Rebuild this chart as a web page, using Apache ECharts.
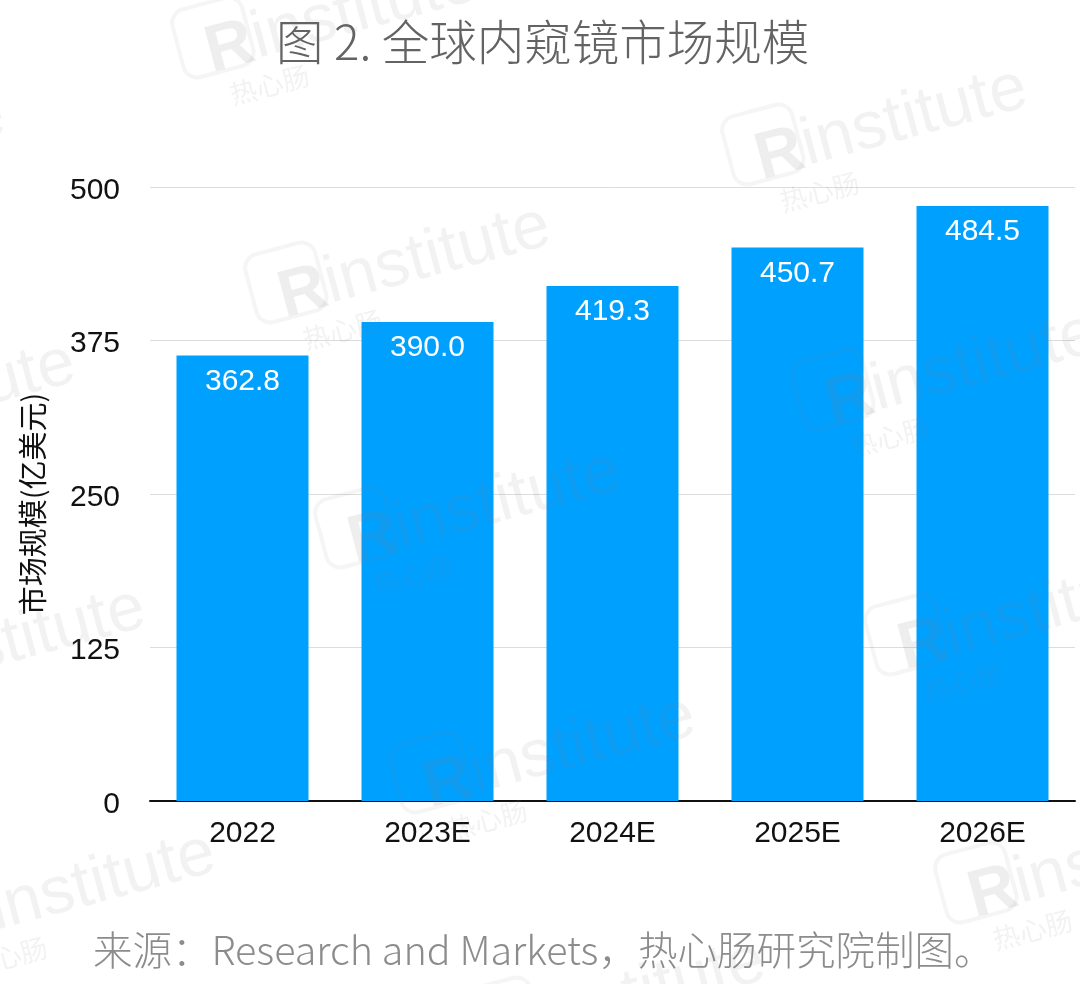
<!DOCTYPE html>
<html>
<head>
<meta charset="utf-8">
<script src="https://cdn.jsdelivr.net/npm/echarts@6/dist/echarts.min.js"></script>
<style>
html,body{margin:0;padding:0;background:#fff}
#main{width:1080px;height:984px}
</style>
</head>
<body>
<div id="main"></div>
<script>
var categories = ['2022', '2023E', '2024E', '2025E', '2026E'];
var marketSize = [362.8, 390.0, 419.3, 450.7, 484.5];
var yTicks = [0, 125, 250, 375, 500];
var cjk = '"Noto Sans CJK SC","Liberation Sans",sans-serif';
var latin = '"Liberation Sans",sans-serif';

// 水印左上角位置
var marks = [[169,13],[719,120],[242,258],[789,365],[312,503],[862,610],[387,748],[932,858],[-233,395],[-163,640],[-93,885],[457,993],[-303,148]];
var graphic = marks.map(function(m){
	return {
		type:'group', x:m[0], y:m[1], rotation:Math.PI*15/180, silent:true,
		children:[
			{type:'rect', z:10, shape:{x:0,y:0,width:72,height:70,r:14}, style:{fill:'none',stroke:'rgba(125,125,125,0.08)',lineWidth:4}},
			{type:'text', z:10, x:26, y:50, style:{text:'R',font:'bold 66px "Liberation Sans"',verticalAlign:'middle',fill:'rgba(125,125,125,0.13)'}},
			{type:'text', z:10, x:74, y:48, style:{text:'institute',font:'67px "Liberation Sans"',verticalAlign:'middle',fill:'rgba(125,125,125,0.10)'}},
			{type:'text', z:10, x:38, y:82, style:{text:'热心肠',font:'27px "Noto Sans CJK SC"',fill:'rgba(125,125,125,0.10)'}}
		]
	};
});

var option = {
	backgroundColor:'#fff',
	animation:false,
	title:[
		{text:'图 2. 全球内窥镜市场规模', left:271, top:13,
		 textStyle:{color:'#636363',fontSize:47.5,fontWeight:300,fontFamily:cjk}},
		{text:'来源：Research and Markets，热心肠研究院制图。', left:88, top:925,
		 textStyle:{color:'#8c8c8c',fontSize:39.5,fontWeight:300,fontFamily:cjk}}
	],
	grid:{left:150,right:5,top:187,bottom:183},
	xAxis:{
		type:'category',
		data:categories,
		axisTick:{show:false},
		axisLine:{lineStyle:{color:'#111',width:2}},
		axisLabel:{color:'#111',fontSize:30,margin:18,fontFamily:latin}
	},
	yAxis:{
		type:'value',
		min:yTicks[0],
		max:yTicks[4],
		interval:yTicks[1],
		name:'市场规模(亿美元)',
		nameLocation:'middle',
		nameGap:103,
		nameTextStyle:{color:'#111',fontSize:29,fontFamily:cjk,padding:[0,20,0,0]},
		axisLine:{show:false},
		axisTick:{show:false},
		axisLabel:{
			margin:30,
			formatter:'{a|{value}}',
			rich:{a:{color:'#111',fontSize:30,fontFamily:latin,padding:[7,0,0,0]}}
		},
		splitLine:{lineStyle:{color:'#dcdcdc',width:1}}
	},
	series:[{
		type:'bar',
		data:marketSize,
		barWidth:132,
		itemStyle:{color:'#00a0ff'},
		label:{show:true,position:'insideTop',distance:11,color:'#fff',fontSize:30,
			fontFamily:latin,formatter:function(p){return p.value.toFixed(1);}}
	}],
	graphic:graphic
};
var myChart = echarts.init(document.getElementById('main'));
myChart.setOption(option);
</script>
</body>
</html>
